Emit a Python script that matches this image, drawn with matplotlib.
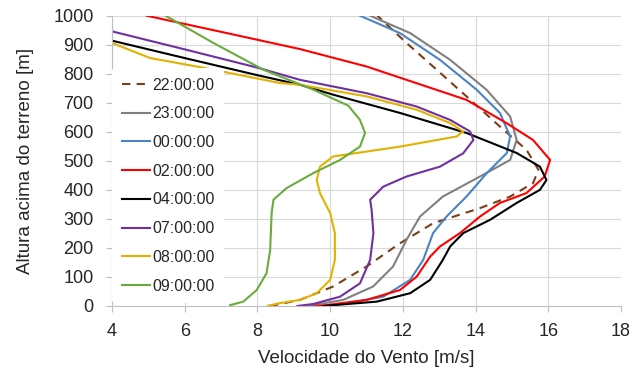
import matplotlib
matplotlib.use("Agg")
import matplotlib.pyplot as plt

plt.rcParams["font.family"] = ["Liberation Sans", "DejaVu Sans"]

# perfis de vento (velocidade [m/s], altura [m])
labels = ["22:00:00", "23:00:00", "00:00:00", "02:00:00",
          "04:00:00", "07:00:00", "08:00:00", "09:00:00"]
colors = ["#7B3F1A", "#808080", "#4A84C4", "#FF0000",
          "#000000", "#7030A0", "#E3B200", "#6AAB3E"]

v22 = [8.35, 9.17, 10.08, 11.0, 11.92, 12.83, 14.12, 14.95, 15.58, 15.73, 15.4, 14.67, 13.75, 12.83, 12.1, 11.3]
h22 = [0, 21, 67, 136, 216, 285, 337, 377, 423, 469, 538, 618, 722, 825, 906, 1000]

v23 = [9.4, 10.36, 11.18, 11.73, 12.1, 12.47, 13.1, 14.12, 14.95, 15.13, 14.95, 14.3, 13.3, 12.2, 11.1]
h23 = [0, 21, 67, 136, 228, 308, 377, 446, 503, 572, 653, 745, 848, 940, 1000]

v00 = [9.9, 10.36, 11.46, 12.2, 12.56, 12.83, 13.2, 13.75, 14.31, 14.86, 14.95, 14.67, 14.03, 13.02, 11.92, 10.82]
h00 = [0, 7, 32, 90, 159, 251, 308, 377, 458, 527, 584, 665, 745, 848, 940, 1000]

v02 = [9.6, 9.9, 11.0, 11.92, 12.38, 12.75, 13.02, 13.57, 14.12, 14.67, 15.4, 15.9, 16.05, 15.58, 14.85, 13.75, 11.0, 9.17, 7.05, 4.95]
h02 = [0, 3, 21, 55, 101, 170, 205, 251, 308, 355, 389, 446, 503, 572, 630, 710, 825, 885, 943, 1000]

v04 = [9.8, 11.28, 12.2, 12.75, 13.1, 13.3, 13.66, 14.4, 15.13, 15.77, 15.95, 15.77, 15.13, 13.75, 11.92, 10.08, 9.17, 8.0, 6.0, 4.0]
h04 = [0, 15, 44, 90, 159, 205, 251, 297, 355, 400, 434, 480, 527, 596, 665, 728, 762, 795, 854, 914]

v07 = [9.1, 9.54, 10.27, 10.82, 11.1, 11.19, 11.14, 11.1, 11.46, 12.1, 13.02, 13.66, 13.94, 13.85, 13.3, 12.38, 11.0, 9.17, 8.0, 6.0, 4.0]
h07 = [0, 7, 32, 78, 159, 251, 331, 366, 411, 446, 480, 526, 572, 601, 641, 687, 733, 779, 821, 884, 946]

v08 = [8.29, 8.62, 9.17, 9.63, 10.0, 10.13, 10.13, 10.0, 9.72, 9.63, 9.72, 10.08, 11.92, 13.48, 13.66, 13.3, 12.38, 11.0, 9.17, 8.62, 7.02, 6.33, 5.05, 4.0]
h08 = [1, 10, 21, 44, 90, 159, 251, 320, 389, 434, 480, 515, 549, 584, 601, 630, 676, 722, 762, 768, 808, 825, 854, 906]

v09 = [7.25, 7.61, 7.98, 8.25, 8.35, 8.39, 8.44, 8.8, 9.54, 10.27, 10.82, 10.96, 10.82, 10.5, 9.54, 8.16, 6.79, 5.47]
h09 = [3, 15, 55, 113, 193, 320, 366, 406, 458, 503, 549, 596, 641, 690, 745, 814, 906, 1000]

series = [(v22, h22), (v23, h23), (v00, h00), (v02, h02),
          (v04, h04), (v07, h07), (v08, h08), (v09, h09)]

fig = plt.figure(figsize=(6.34, 3.70), dpi=100)
ax = fig.add_axes([0.1767, 0.173, 0.8028, 0.7846])

for i, (v, h) in enumerate(series):
    if i == 0:
        ax.plot(v, h, color=colors[i], lw=1.5, dashes=(4, 3), label=labels[i])
    else:
        ax.plot(v, h, color=colors[i], lw=1.5, label=labels[i])

ax.set_xlim(4, 18)
ax.set_ylim(0, 1000)
ax.set_xticks(range(4, 19, 2))
ax.set_yticks(range(0, 1001, 100))
ax.grid(True, color="#D9D9D9", lw=0.8)
ax.set_axisbelow(True)
for s in ["top", "right"]:
    ax.spines[s].set_visible(False)
for s in ["left", "bottom"]:
    ax.spines[s].set_color("#BFBFBF")
ax.tick_params(colors="#BFBFBF", labelcolor="#262626", labelsize=13, length=4.3)
ax.tick_params(axis="y", pad=9)
ax.tick_params(axis="x", pad=8)
ax.set_xlabel("Velocidade do Vento [m/s]", fontsize=13.5, color="#262626", labelpad=7)
ax.set_ylabel("Altura acima do terreno [m]", fontsize=13.5, color="#262626", labelpad=14)

leg = ax.legend(loc="upper left", bbox_to_anchor=(0.0, 0.82), borderaxespad=0,
                frameon=True, facecolor="white", edgecolor="none", framealpha=1,
                fontsize=11.5, handlelength=1.75, handletextpad=0.15,
                labelspacing=0.86, borderpad=0.6)
for t in leg.get_texts():
    t.set_color("#262626")

fig.savefig("out.png", dpi=100)
